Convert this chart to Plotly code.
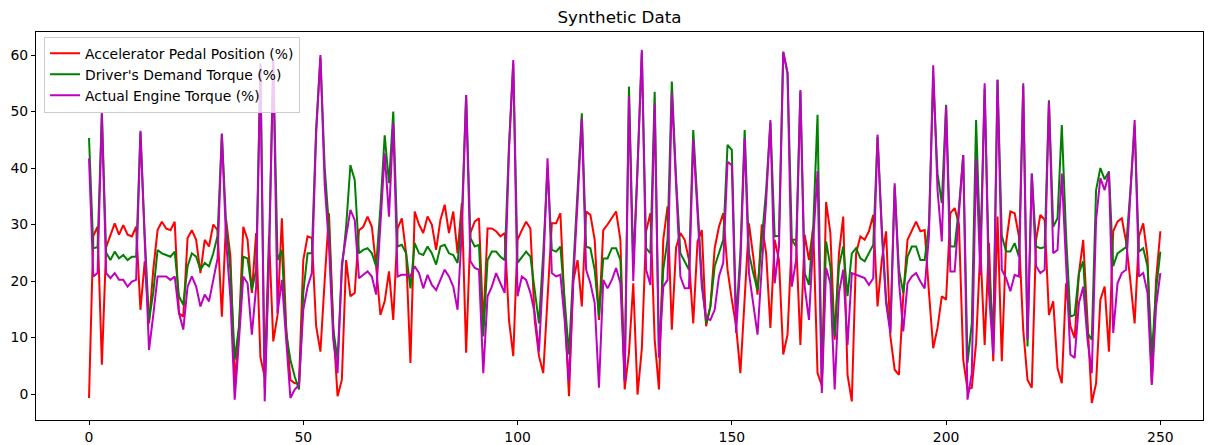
import plotly.graph_objects as go

accel = [-0.7, 28.0, 29.6, 5.2, 26.0, 28.2, 30.2, 28.2, 29.9, 28.2, 27.9, 29.6, 14.9, 23.5, 12.5, 22.0, 29.0, 30.5, 29.3, 29.0,
         30.5, 14.3, 13.7, 27.6, 29.0, 27.3, 21.4, 27.3, 26.1, 30.0, 29.0, 13.7, 30.8, 24.3, 2.0, 11.4, 29.6, 27.3, 17.9, 28.5,
         6.5, 3.0, 28.0, 9.3, 14.0, 31.1, 12.0, 2.5, 1.9, 1.9, 23.7, 27.9, 27.6, 12.0, 7.5, 20.2, 32.0, 12.0, -0.4, 2.5,
         23.7, 17.3, 17.9, 29.0, 29.6, 31.4, 29.6, 22.6, 14.0, 16.4, 21.7, 13.1, 29.3, 31.1, 24.9, 5.5, 32.3, 30.0, 28.5, 31.4,
         30.0, 25.5, 30.8, 33.5, 28.5, 32.3, 24.9, 33.8, 7.3, 28.5, 30.5, 31.1, 12.0, 29.3, 29.3, 28.8, 27.9, 28.5, 13.1, 6.7,
         27.3, 29.0, 30.5, 29.3, 13.1, 6.7, 3.7, 17.0, 30.2, 30.2, 32.0, 15.0, -0.4, 20.0, 23.7, 15.5, 32.3, 31.7, 27.3, 13.1,
         29.0, 30.0, 31.1, 32.3, 27.3, 0.8, 7.3, 19.6, -0.1, 8.0, 28.8, 32.0, 9.6, 0.8, 27.3, 33.2, 11.4, 26.0, 28.5, 27.3,
         23.7, 12.5, 27.0, 29.0, 12.0, 15.5, 25.8, 29.6, 32.0, 22.0, 16.7, 12.0, 3.7, 17.9, 30.2, 24.3, 17.6, 30.0, 25.0, 11.7,
         27.3, 23.7, 7.0, 10.5, 27.3, 27.3, 8.7, 28.2, 23.7, 29.6, 3.7, 1.5, 34.0, 28.5, 9.6, 24.9, 31.4, 3.4, -1.3, 24.9,
         27.9, 27.3, 28.8, 31.7, 15.5, 23.7, 28.8, 10.2, 4.3, 3.4, 17.3, 27.3, 29.0, 30.5, 28.8, 29.0, 18.0, 8.1, 11.7, 17.3,
         16.7, 32.0, 32.9, 30.0, 6.1, 0.8, 1.1, 9.0, 25.8, 8.7, 26.7, 5.8, 31.4, 5.8, 26.7, 32.3, 32.0, 27.9, 11.4, 2.5,
         1.1, 27.3, 31.7, 30.8, 14.0, 16.4, 4.6, 1.9, 19.6, 12.0, 9.9, 21.4, 27.3, 12.0, -1.6, 1.9, 16.7, 19.0, 7.5, 28.8,
         30.5, 31.1, 27.0, 20.0, 12.5, 27.9, 30.2, 24.3, 1.9, 20.2, 28.8]

demand = [45.3, 25.8, 26.0, 49.7, 25.0, 23.7, 25.2, 24.0, 24.6, 23.7, 24.3, 24.3, 46.3, 28.0, 13.0, 18.0, 25.5, 24.9, 24.6, 24.3,
          25.2, 17.3, 15.8, 22.6, 24.9, 24.3, 22.0, 23.2, 22.6, 24.9, 28.0, 46.0, 30.0, 22.0, 6.1, 12.0, 24.3, 24.0, 18.4, 22.0,
          58.0, 1.0, 25.0, 58.8, 23.7, 25.5, 10.8, 6.0, 3.1, 0.8, 17.9, 24.9, 24.9, 47.0, 59.5, 40.0, 29.6, 11.4, 6.1, 22.0,
          29.6, 40.5, 37.9, 24.9, 25.5, 25.8, 24.9, 22.6, 33.0, 45.8, 37.3, 50.0, 26.1, 26.4, 24.9, 18.7, 26.7, 24.9, 24.6, 26.1,
          24.9, 22.9, 26.1, 26.4, 24.9, 24.6, 23.2, 31.0, 52.9, 27.6, 26.1, 26.4, 10.2, 23.7, 25.2, 25.2, 24.3, 23.7, 44.0, 58.5,
          23.2, 24.3, 25.2, 24.3, 18.4, 12.5, 25.0, 40.0, 25.5, 25.2, 26.1, 16.0, 7.0, 22.0, 35.0, 49.7, 26.1, 25.8, 22.0, 13.7,
          24.0, 24.0, 25.8, 25.8, 23.7, 2.5, 54.4, 23.0, 40.0, 60.5, 25.8, 24.9, 53.5, 6.7, 22.0, 27.3, 55.3, 38.0, 24.9, 23.5,
          22.0, 46.7, 33.0, 20.2, 12.5, 15.5, 22.6, 24.9, 27.3, 44.1, 43.2, 13.0, 25.0, 46.7, 24.9, 21.4, 18.4, 27.3, 36.0, 48.0,
          27.9, 28.0, 60.5, 56.8, 27.3, 26.1, 53.5, 21.4, 19.3, 29.6, 49.4, 2.0, 27.0, 22.6, 10.2, 22.6, 26.1, 17.3, 24.9, 25.8,
          24.0, 23.5, 24.9, 26.4, 45.5, 29.6, 16.7, 11.4, 36.7, 22.0, 17.9, 24.3, 26.1, 26.1, 23.7, 23.7, 30.0, 56.0, 39.0, 33.8,
          51.2, 26.1, 26.1, 33.0, 42.3, 5.5, 12.5, 48.5, 25.0, 54.0, 22.0, 10.0, 55.6, 28.0, 25.2, 25.2, 26.7, 24.3, 54.5, 8.4,
          39.0, 26.1, 25.8, 26.0, 52.0, 29.6, 31.1, 47.6, 28.0, 13.7, 14.0, 21.4, 23.5, 10.8, 9.6, 36.1, 40.0, 38.0, 39.4, 22.6,
          24.9, 25.5, 26.0, 36.0, 47.5, 25.2, 25.8, 22.6, 6.7, 18.4, 25.2]

actual = [41.7, 20.8, 21.4, 49.7, 21.4, 20.5, 21.4, 20.2, 20.2, 19.0, 19.9, 20.2, 46.6, 26.0, 7.8, 14.0, 20.8, 20.8, 20.8, 20.2,
          20.8, 14.3, 11.4, 19.0, 20.8, 19.0, 15.5, 17.6, 16.4, 20.2, 24.0, 46.1, 27.0, 17.0, -1.0, 9.6, 20.8, 19.6, 10.5, 19.0,
          58.5, -1.3, 24.0, 59.1, 14.3, 20.2, 9.6, -0.7, 0.8, 1.6, 14.9, 19.0, 21.4, 46.0, 60.0, 37.0, 26.1, 9.6, 3.7, 23.0,
          27.9, 32.6, 30.8, 20.5, 21.1, 21.7, 20.8, 17.6, 30.0, 42.6, 31.4, 47.9, 20.8, 21.1, 21.1, 20.8, 22.6, 21.4, 18.7, 21.1,
          19.3, 18.4, 20.2, 22.0, 20.8, 19.0, 14.9, 29.0, 52.9, 23.5, 22.3, 22.0, 3.7, 17.3, 19.0, 21.4, 19.6, 17.9, 43.0, 59.1,
          17.3, 20.8, 20.2, 17.9, 14.3, 7.5, 22.0, 41.7, 21.4, 20.8, 21.1, 13.0, 2.2, 20.0, 34.0, 48.8, 22.0, 19.6, 16.1, 1.1,
          20.2, 18.7, 20.2, 22.3, 19.6, 2.2, 52.6, 20.0, 40.0, 60.9, 22.0, 19.3, 51.4, 6.4, 19.0, 20.2, 53.2, 36.0, 20.8, 18.7,
          18.7, 45.0, 31.0, 19.0, 13.4, 13.1, 14.9, 20.8, 23.2, 41.1, 40.5, 10.8, 23.0, 45.3, 21.4, 15.5, 10.5, 22.6, 34.0, 48.5,
          19.6, 26.0, 60.6, 56.8, 19.0, 23.7, 53.8, 19.0, 13.1, 27.3, 39.4, 0.2, 22.3, 19.6, 0.8, 17.9, 22.0, 8.7, 21.4, 21.1,
          20.8, 20.5, 19.3, 20.5, 45.9, 28.5, 16.1, 10.8, 37.3, 20.0, 11.1, 19.6, 20.8, 21.4, 19.9, 18.7, 28.0, 58.2, 36.1, 27.0,
          50.9, 21.7, 21.7, 32.0, 42.3, -1.0, 3.7, 41.7, 21.0, 55.0, 18.0, 7.0, 55.6, 22.0, 20.5, 18.2, 21.1, 20.8, 55.0, 9.6,
          39.0, 22.6, 21.4, 22.0, 51.7, 24.9, 25.5, 39.0, 24.0, 7.0, 6.4, 16.1, 19.0, 9.6, 3.7, 30.8, 38.2, 36.1, 39.1, 10.8,
          19.6, 21.4, 22.0, 36.0, 48.5, 20.8, 21.4, 17.9, 1.6, 15.5, 21.4]

x = list(range(len(accel)))

names = ["Accelerator Pedal Position (%)", "Driver's Demand Torque (%)", "Actual Engine Torque (%)"]
colors = ["#ff0000", "#008000", "#bf00bf"]
x_ticks = [0, 50, 100, 150, 200, 250]
y_ticks = [0, 10, 20, 30, 40, 50, 60]

fig = go.Figure()
for ys, nm, c in zip([accel, demand, actual], names, colors):
    fig.add_trace(go.Scatter(x=x, y=ys, mode="lines", name=nm,
                             line=dict(color=c, width=2)))

axis_common = dict(showline=True, linecolor="black", linewidth=1, mirror=True,
                   ticks="outside", ticklen=4, tickwidth=1, tickcolor="black",
                   showgrid=False, zeroline=False, automargin=False,
                   tickfont=dict(family="DejaVu Sans", size=13.9, color="black"))

fig.update_layout(
    width=1211, height=445,
    margin=dict(l=36, r=8, t=32, b=25),
    paper_bgcolor="white", plot_bgcolor="white",
    title=dict(text="Synthetic Data", x=0.5, xref="paper", y=0.962, yanchor="middle",
               font=dict(family="DejaVu Sans", size=16.7, color="black")),
    xaxis=dict(range=[-12.37, 259.95], tickvals=x_ticks, **axis_common),
    yaxis=dict(range=[-4.6, 64.07], tickvals=y_ticks, **axis_common),
    legend=dict(x=0.0069, y=0.988, xanchor="left", yanchor="top",
                bgcolor="rgba(255,255,255,0.8)", bordercolor="#cccccc", borderwidth=1,
                font=dict(family="DejaVu Sans", size=13.9, color="black"),
                itemwidth=30, tracegroupgap=0),
    showlegend=True,
)

fig.write_html("out.html")
